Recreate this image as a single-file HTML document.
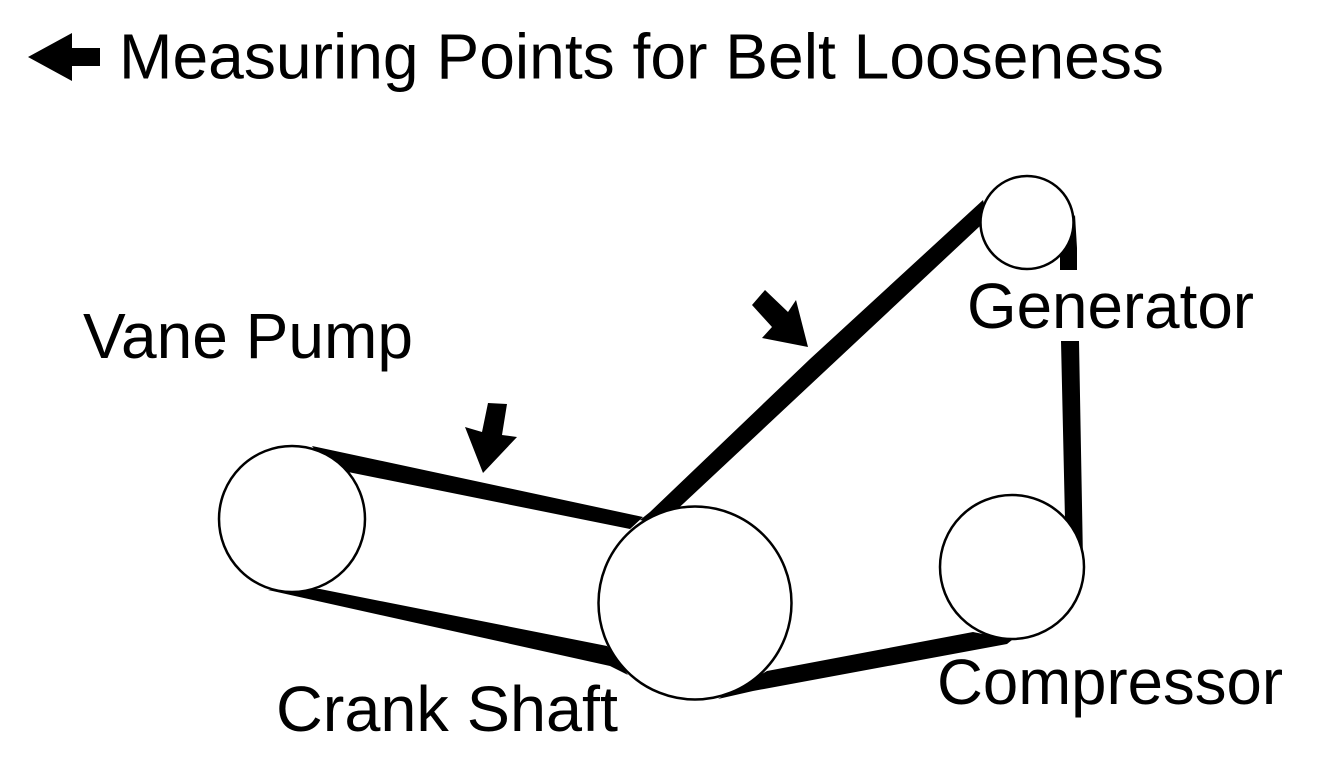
<!DOCTYPE html>
<html>
<head>
<meta charset="utf-8">
<style>
html,body{margin:0;padding:0;background:#fff;}
svg{display:block;}
text{font-family:"Liberation Sans",Arial,sans-serif;fill:#000;}
</style>
</head>
<body>
<svg width="1317" height="757" viewBox="0 0 1317 757" xmlns="http://www.w3.org/2000/svg">
<rect width="1317" height="757" fill="#fff"/>
<!-- title arrow -->
<polygon points="28,57 72,33 72,48 100,48 100,66 72,66 72,81" fill="#000"/>
<text x="119" y="78.5" font-size="64" textLength="1045" lengthAdjust="spacingAndGlyphs">Measuring Points for Belt Looseness</text>
<!-- belts -->
<g fill="#000">
<polygon points="312,446 643,517 630,529 348,472 330,470"/>
<polygon points="268,590 320,589 607,646 628,675 610,666"/>
<polygon points="640,520 650,512 810,359 983,200 990,225 980,226 684,503 660,525"/>
<polygon points="1060,270 1077,270 1077,248 1075,215 1060,240"/>
<polygon points="1061,341 1079,341 1083,560 1060,560 1065,520"/>
<polygon points="767,671 973,632 1012,640 1007,644 753,691 718,699"/>
</g>
<!-- pulleys -->
<g fill="#fff" stroke="#000" stroke-width="2.5">
<circle cx="292" cy="519" r="73"/>
<circle cx="695" cy="603" r="96.5"/>
<circle cx="1012" cy="567" r="72"/>
<circle cx="1027" cy="222.5" r="46.5"/>
</g>
<!-- measuring arrows -->
<polygon points="488,403 507,404 502,435 517,437 483,473 465,427 482,432" fill="#000"/>
<polygon points="765,290 752,305 772,327 762,338 808,347 796,300 788,312" fill="#000"/>
<!-- labels -->
<text x="83" y="358" font-size="64" textLength="330" lengthAdjust="spacingAndGlyphs">Vane Pump</text>
<text x="967" y="328" font-size="64" textLength="287" lengthAdjust="spacingAndGlyphs">Generator</text>
<text x="937" y="704" font-size="64" textLength="346" lengthAdjust="spacingAndGlyphs">Compressor</text>
<text x="276" y="731" font-size="64" textLength="342" lengthAdjust="spacingAndGlyphs">Crank Shaft</text>
</svg>
</body>
</html>
